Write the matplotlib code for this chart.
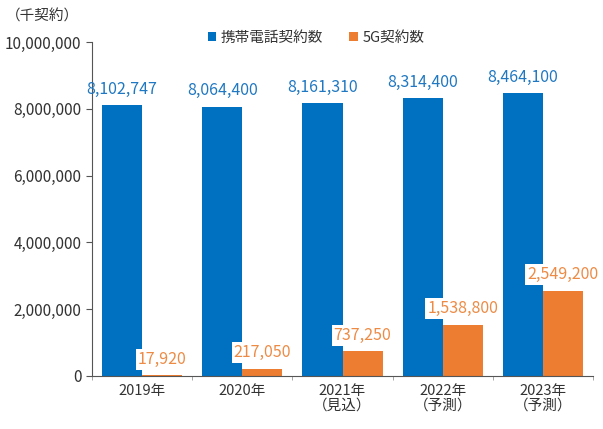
import matplotlib.pyplot as plt
import numpy as np

plt.rcParams['font.family'] = ['Noto Sans CJK JP', 'DejaVu Sans']

# data (千契約)
years = ["2019年", "2020年", "2021年\n（見込）", "2022年\n（予測）", "2023年\n（予測）"]
mobile = [8102747, 8064400, 8161310, 8314400, 8464100]
fiveg = [17920, 217050, 737250, 1538800, 2549200]

blue = "#0070C0"
orange = "#ED7D31"
grey = "#555555"

fig = plt.figure(figsize=(6.03, 4.29), dpi=100)
ax = fig.add_axes([92 / 603, 53 / 429, 501 / 603, 334 / 429])

x = np.arange(len(years))
w = 0.4
ax.bar(x - w / 2, mobile, w, color=blue, label="携帯電話契約数")
ax.bar(x + w / 2, fiveg, w, color=orange, label="5G契約数")

for i in range(len(years)):
    ax.text(x[i] - w / 2, mobile[i] + 220000, f"{mobile[i]:,}", ha="center", va="bottom",
            color="#1f78c1", fontsize=11.5)
    ax.text(x[i] + w / 2, fiveg[i] + 230000, f"{fiveg[i]:,}", ha="center", va="bottom",
            color="#ED8B45", fontsize=11.5,
            bbox=dict(facecolor="white", edgecolor="none", pad=1.5))

ax.set_xlim(-0.5, len(years) - 0.5)
ax.set_ylim(0, 10000000)
ax.set_yticks(np.arange(0, 10000001, 2000000))
ax.yaxis.set_major_formatter(plt.FuncFormatter(lambda v, p: f"{int(v):,}"))
ax.tick_params(axis="y", labelsize=11, colors=grey, length=4, width=0.8, labelcolor="#333333")

# category labels between the boundary ticks
ax.set_xticks(np.arange(-0.5, len(years), 1.0))
ax.set_xticklabels([])
ax.tick_params(axis="x", length=3, width=0.6, colors="#999999")
for i, lab in enumerate(years):
    ax.text(x[i], -250000, lab, ha="center", va="top", fontsize=10.5, color="#333333",
            linespacing=1.05)

for s in ["top", "right"]:
    ax.spines[s].set_visible(False)
ax.spines["left"].set_color(grey)
ax.spines["bottom"].set_color(grey)

fig.text(6 / 603, 1 - 17 / 429, "（千契約）", fontsize=10.5, color="#333333", va="center")
fig.legend(loc="center", bbox_to_anchor=(316 / 603, 1 - 38 / 429), ncol=2, frameon=False,
           fontsize=10.5, handlelength=0.6, handleheight=0.6, handletextpad=0.3,
           columnspacing=1.8, labelcolor="#333333")

fig.savefig("out.png", dpi=100)
